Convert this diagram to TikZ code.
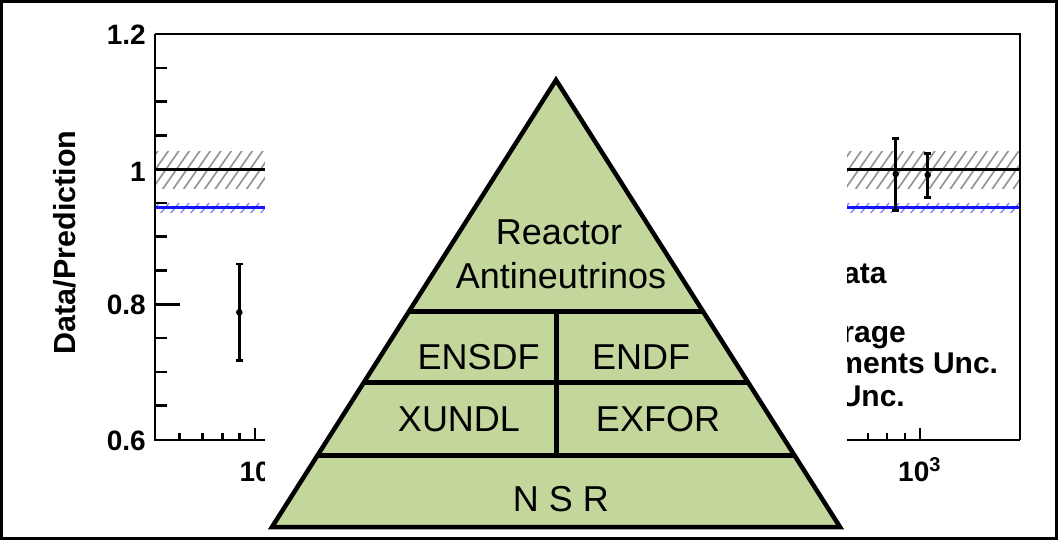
\documentclass[tikz,border=0pt]{standalone}
\usepackage{fontspec}
\setmainfont{Liberation Sans}
\definecolor{pyr}{RGB}{195,214,155}
\definecolor{hatchgray}{RGB}{150,150,150}
\definecolor{hatchblue}{RGB}{130,130,255}
\definecolor{lineblue}{RGB}{20,20,255}
\tikzset{
  frameline/.style={line width=2.5pt},
  tickline/.style={line width=2.5pt},
  hatchline/.style={hatchgray, line width=1.7pt},
  bhatchline/.style={hatchblue, line width=1.3pt},
  errbar/.style={line width=2.5pt},
  pyrline/.style={line width=4.5pt},
  ylab/.style={font=\fontsize{28}{32}\selectfont\bfseries, inner sep=0pt, anchor=base east},
  xlab/.style={font=\fontsize{28}{32}\selectfont\bfseries, inner sep=0pt, anchor=base west},
  leg/.style={font=\fontsize{30}{36}\selectfont\bfseries, inner sep=0pt, anchor=base east},
  ptext/.style={font=\fontsize{36}{43}\selectfont, inner sep=0pt, anchor=base},
}
\begin{document}
\begin{tikzpicture}[x=1pt,y=-1pt]
\useasboundingbox (0,0) rectangle (1058,540);
\fill[white] (0,0) rectangle (1058,540);

% ---------- plot ----------
% gray hatched band
\begin{scope}
  \clip (155,151.7) rectangle (1020,188.3);
  \foreach \i in {0,...,90} \draw[hatchline] ({120+\i*10.5},190) -- ++(28,-40);
\end{scope}
% blue hatched band
\begin{scope}
  \clip (155,203) rectangle (1020,213);
  \foreach \i in {0,...,90} \draw[bhatchline] ({150+\i*10},214) -- ++(9,-11);
\end{scope}
\draw[line width=2.5pt] (155,169.5) -- (1020,169.5);
\draw[lineblue, line width=3pt] (155,208) -- (1020,208);

% frame
\draw[line width=2pt] (155,34) -- (1020,34) -- (1020,440);
\draw[frameline] (155,34) -- (155,440) -- (1020,440);
% y ticks
\foreach \k in {1,2,3,5,6,7,9,10,11}
  \draw[tickline] (155,{34+\k*33.79}) -- ++(12,0);
\foreach \k in {0,4,8}
  \draw[tickline] (155,{34+\k*33.79}) -- ++(25,0);
% x ticks
\foreach \x in {179.3,202.7,222.7,239.3,868,887,905}
  \draw[tickline] (\x,440) -- (\x,433);
\foreach \x in {255,920}
  \draw[tickline] (\x,440) -- (\x,428);

% data points
\draw[errbar] (239.3,264) -- (239.3,360.7);
\draw[errbar] (236,264) -- (242.6,264);
\draw[errbar] (236,360.7) -- (242.6,360.7);
\fill (239.3,312.3) circle (3.3);

\draw[errbar] (895.7,138.3) -- (895.7,210.7);
\draw[errbar] (892.4,138.3) -- (899,138.3);
\draw[errbar] (892.4,210.7) -- (899,210.7);
\fill (895.7,174) circle (3.3);

\draw[errbar] (927.7,153.3) -- (927.7,197.3);
\draw[errbar] (924.4,153.3) -- (931,153.3);
\draw[errbar] (924.4,197.3) -- (931,197.3);
\fill (927.7,175) circle (3.3);

% axis labels
\node[ylab] (t12) at (146,45) {1.2};
\node[ylab] (t10) at (146,182) {1};
\node[ylab] (t08) at (146,314) {0.8};
\node[ylab] (t06) at (146,450) {0.6};
\node[xlab] (x2) at (239.3,481.7) {10};
\node[xlab] (x3) at (898,481.7) {10\raisebox{10.5pt}{\fontsize{20}{22}\selectfont 3}};
\node[rotate=90, inner sep=0pt, font=\fontsize{30.5}{36}\selectfont\bfseries] (ytitle) at (65,242.5) {Data/Prediction};

% legend fragments
\node[leg] (l1) at (886.7,283.3) {ata};
\node[leg] (l2) at (906,342.5) {rage};
\node[leg] (l3) at (998.3,373.5) {ments Unc.};
\node[leg] (l4) at (905,406) {Unc.};

% white cover
\fill[white] (265,37) rectangle (847,536);

% ---------- pyramid ----------
\coordinate (apex) at (556,80);
\coordinate (bl) at (272,527);
\coordinate (br) at (840,527);
\fill[pyr] (apex) -- (bl) -- (br) -- cycle;
\begin{scope}
  \clip (apex) -- (bl) -- (br) -- cycle;
  \draw[pyrline] (250,311.7) -- (860,311.7);
  \draw[pyrline] (250,382.7) -- (860,382.7);
  \draw[pyrline] (250,455.7) -- (860,455.7);
  \draw[pyrline] (556.7,311.7) -- (556.7,455.7);
\end{scope}
\draw[pyrline, line join=miter] (apex) -- (bl) -- (br) -- cycle;

\node[ptext] (reactor) at (559,245) {Reactor};
\node[ptext] (anti) at (561,288) {Antineutrinos};
\node[ptext] (ensdf) at (478.7,369.3) {ENSDF};
\node[ptext] (endf) at (641,369.3) {ENDF};
\node[ptext] (xundl) at (459,431.7) {XUNDL};
\node[ptext] (exfor) at (658,431.7) {EXFOR};
\node[ptext] (nsr) at (561,511.7) {N S R};

% outer border
\draw[line width=3pt] (1.5,1.5) rectangle (1056.5,538.5);
\end{tikzpicture}
\end{document}
